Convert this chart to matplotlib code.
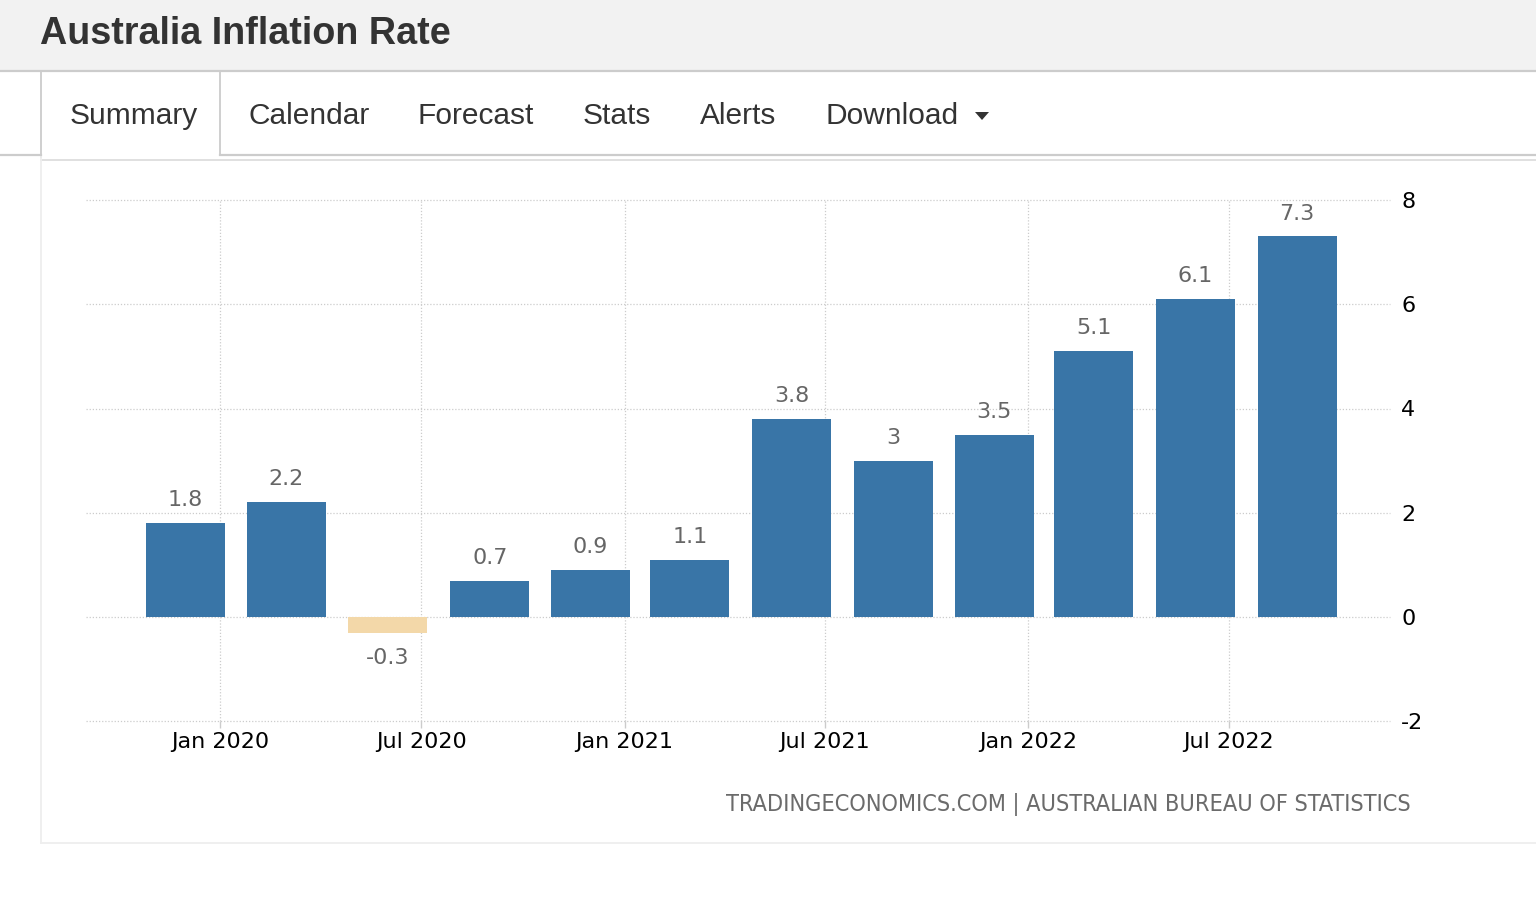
import matplotlib
matplotlib.use("Agg")
import matplotlib.pyplot as plt
import matplotlib.dates as mdates
from matplotlib.patches import Rectangle, Polygon
from datetime import datetime

plt.rcParams["axes.unicode_minus"] = False

# quarterly inflation, Australia (yoy %)
quarters = ["2019-12", "2020-03", "2020-06", "2020-09", "2020-12", "2021-03",
            "2021-06", "2021-09", "2021-12", "2022-03", "2022-06", "2022-09"]
rates = [1.8, 2.2, -0.3, 0.7, 0.9, 1.1, 3.8, 3.0, 3.5, 5.1, 6.1, 7.3]
tabs = ["Summary", "Calendar", "Forecast", "Stats", "Alerts", "Download"]
tab_x = [70, 249, 418, 583, 700, 826]
yticks = [-2, 0, 2, 4, 6, 8]

W, H = 1536, 910
fig = plt.figure(figsize=(W / 100, H / 100), dpi=100)

# page chrome drawn in pixel coords
bg = fig.add_axes([0, 0, 1, 1])
bg.set_xlim(0, W)
bg.set_ylim(H, 0)
bg.axis("off")

bg.add_patch(Rectangle((0, 0), W, 70, color="#f2f2f2", lw=0))
bg.plot([0, W], [71, 71], color="#cccccc", lw=1.6)
bg.text(40, 34, "Australia Inflation Rate", fontsize=27.2, fontweight="bold",
        color="#333333", family="Liberation Sans", va="center", ha="left")

# tab strip
bg.plot([41, 41], [71, 157], color="#cccccc", lw=1.3)
bg.plot([220, 220], [71, 155], color="#cccccc", lw=1.3)
bg.plot([0, 41], [155, 155], color="#cccccc", lw=1.6)
bg.plot([220, W], [155, 155], color="#cccccc", lw=1.6)
for t, x in zip(tabs, tab_x):
    bg.text(x, 116, t, fontsize=21.5, color="#333333", family="Liberation Sans",
            va="center", ha="left")
bg.add_patch(Polygon([[975, 112], [989, 112], [982, 120]], closed=True,
                     color="#333333", lw=0))

# chart panel
bg.plot([41, W], [160, 160], color="#dddddd", lw=1.3)
bg.plot([41, 41], [157, 843], color="#eeeeee", lw=1.3)
bg.plot([41, W], [843, 843], color="#eeeeee", lw=1.3)

bg.text(1411, 805, "TRADINGECONOMICS.COM | AUSTRALIAN BUREAU OF STATISTICS",
        fontsize=16.8, color="#6b6b6b", family="DejaVu Sans", fontstretch="condensed",
        ha="right", va="center")

# main chart
left, right, top, bottom = 86, 1390, 200, 721.25
ax = fig.add_axes([left / W, 1 - bottom / H, (right - left) / W, (bottom - top) / H])
ax.set_facecolor("none")

dates = [datetime.strptime(q, "%Y-%m") for q in quarters]
colors = ["#3975a7" if v >= 0 else "#f3d8a9" for v in rates]
ax.bar(dates, rates, width=71.5, color=colors, zorder=3)

for d, v in zip(dates, rates):
    off = 16.5 if v >= 0 else -18
    ax.annotate(f"{v:g}", (d, v), xytext=(0, off), textcoords="offset points",
                ha="center", va="center", fontsize=16, color="#666666")

ax.set_xlim(datetime(2019, 9, 2), datetime(2022, 11, 24))
ax.set_ylim(-2, 8)
ax.set_yticks(yticks)
ax.xaxis.set_major_locator(mdates.MonthLocator(bymonth=[1, 7]))
ax.xaxis.set_major_formatter(mdates.DateFormatter("%b %Y"))

ax.yaxis.tick_right()
ax.tick_params(axis="y", length=0, pad=8, labelsize=16, labelcolor="black")
ax.tick_params(axis="x", length=5, width=1, color="#cccccc", pad=3,
               labelsize=16, labelcolor="black")
for s in ax.spines.values():
    s.set_visible(False)
ax.grid(True, color="#cccccc", linestyle=(0, (1, 1.5)), linewidth=0.9, zorder=0)
for gl in ax.get_ygridlines() + ax.get_xgridlines():
    gl.set_clip_on(False)

fig.savefig("out.png", dpi=100)
